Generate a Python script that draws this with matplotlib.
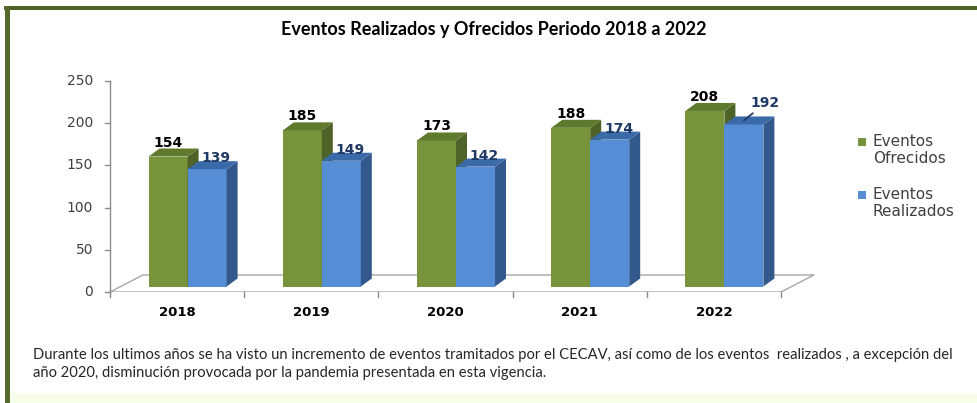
import numpy as np
import matplotlib.pyplot as plt
from matplotlib.patches import Polygon, Rectangle

# ------------------------------ Data ----------------------------------------
years = ['2018', '2019', '2020', '2021', '2022']
ofrecidos = [154, 185, 173, 188, 208]
realizados = [139, 149, 142, 174, 192]
yticks = [0, 50, 100, 150, 200, 250]
series_names = ['Eventos\nOfrecidos', 'Eventos\nRealizados']

title = 'Eventos Realizados y Ofrecidos Periodo 2018 a 2022'
note = ('Durante los ultimos años se ha visto un incremento de eventos tramitados por el CECAV, así como de los eventos  realizados , a excepción del\n'
        'año 2020, disminución provocada por la pandemia presentada en esta vigencia.')

# ------------------------------ Styles --------------------------------------
green = dict(front='#77933c', side='#4f6228', top='#5f7a2d')
blue = dict(front='#558ed5', side='#33598c', top='#3a6aa8')
W, H = 978, 403

fig = plt.figure(figsize=(W / 100, H / 100), dpi=100)
fig.patch.set_facecolor('white')

# frame: dark olive top and left borders, light green strip at the bottom
fig.patches.append(Rectangle((4 / W, 1 - 10 / H), 1, 4 / H, transform=fig.transFigure,
                             facecolor='#4f6228', edgecolor='none', zorder=5))
fig.patches.append(Rectangle((5 / W, 0), 5 / W, 1 - 6 / H, transform=fig.transFigure,
                             facecolor='#566b2b', edgecolor='none', zorder=5))
fig.patches.append(Rectangle((10 / W, 0), 1, 10 / H, transform=fig.transFigure,
                             facecolor='#f6fde9', edgecolor='none', zorder=0))

# axes: x from 110px to 815px, y 0 at 292px and 250 at 81px
ax = fig.add_axes([110 / W, (H - 292) / H, 705 / W, 211 / H])
px_cat = 134.2
ax.set_xlim(-0.5, -0.5 + 705 / px_cat)
ax.set_ylim(0, 250)
ax.axis('off')
ax.patch.set_alpha(0)
py = 250 / 211  # data units per pixel in y

# floor
fdx, fdy = 33 / px_cat, 17 * py
n = len(years)
floor = Polygon([(-0.5, 0), (n - 0.5, 0), (n - 0.5 + fdx, fdy), (-0.5 + fdx, fdy)],
                closed=True, facecolor='white', edgecolor='#a6a6a6', lw=1, zorder=1)
ax.add_patch(floor)

# y axis line + ticks
ax.plot([-0.5, -0.5], [0, 250], color='#8c8c8c', lw=1, clip_on=False, zorder=2)
for t in yticks:
    ax.plot([-0.5 - 5 / px_cat, -0.5], [t, t], color='#8c8c8c', lw=1, clip_on=False)
    ax.text(-0.5 - 17 / px_cat, t, str(t), ha='right', va='center', fontsize=10,
            color='#404040', family='DejaVu Sans')
# x category ticks and labels
for i in range(n + 1):
    ax.plot([i - 0.5, i - 0.5], [0, -5 * py], color='#8c8c8c', lw=1, clip_on=False)
for i, yr in enumerate(years):
    ax.text(i, -20 * py, yr, ha='center', va='center', fontsize=9.5, fontweight='bold',
            color='black', family='DejaVu Sans')

# 3D bars
bw = 39 / px_cat
off_x, off_y = 10.5 / px_cat, 5.5 * py
bdx, bdy = 11 / px_cat, 8 * py


def bar3d(x0, v, c, z):
    base, top = off_y, off_y + v
    ax.bar(x0, v, width=bw, bottom=base, align='edge', color=c['front'], zorder=z)
    ax.add_patch(Polygon([(x0 + bw, base), (x0 + bw + bdx, base + bdy),
                          (x0 + bw + bdx, top + bdy), (x0 + bw, top)],
                         closed=True, facecolor=c['side'], edgecolor='none', zorder=z))
    ax.add_patch(Polygon([(x0, top), (x0 + bdx, top + bdy),
                          (x0 + bw + bdx, top + bdy), (x0 + bw, top)],
                         closed=True, facecolor=c['top'], edgecolor='none', zorder=z))


lbl = dict(ha='center', va='center', fontsize=10, fontweight='bold',
           family='DejaVu Sans', zorder=20, annotation_clip=False)
for i in range(n):
    xc = i + off_x
    bar3d(xc - bw, ofrecidos[i], green, 3 + i * 2)
    bar3d(xc, realizados[i], blue, 4 + i * 2)
    ax.annotate(str(ofrecidos[i]), (xc - bw / 2, off_y + ofrecidos[i] + bdy),
                xytext=(0, 6), textcoords='offset pixels', color='black', **lbl)
    if i == n - 1:
        # last label pulled out with a short leader line
        ax.annotate(str(realizados[i]), (xc + bw / 2, off_y + realizados[i] + bdy / 2),
                    xytext=(21, 17), textcoords='offset pixels', color='#1f3864',
                    arrowprops=dict(arrowstyle='-', color='#1f3864', lw=1.3,
                                    shrinkA=0, shrinkB=0), **lbl)
    else:
        ax.annotate(str(realizados[i]), (xc + bw / 2, off_y + realizados[i] + bdy),
                    xytext=(9, 3), textcoords='offset pixels', color='#1f3864', **lbl)

# legend (square beside the first line of each two-line entry)
for k, (name, c) in enumerate(zip(series_names, [green, blue])):
    yc = 1 - (142 + 53 * k) / H
    fig.patches.append(Rectangle((858 / W, yc - 4 / H), 8 / W, 8 / H,
                                 transform=fig.transFigure, facecolor=c['front'],
                                 edgecolor='none'))
    fig.text(873 / W, yc + 8 / H, name, ha='left', va='top', fontsize=11,
             family='DejaVu Sans', color='#404040', linespacing=1.15)

# title and note
fig.text(494 / W, 1 - 30 / H, title, ha='center', va='center', fontsize=13,
         fontweight='bold', family='Lato', color='black')
fig.text(33 / W, 1 - 364 / H, note, ha='left', va='center', fontsize=10.6,
         family='Lato', color='#262626', linespacing=1.35)

fig.savefig('out.png', dpi=100)
